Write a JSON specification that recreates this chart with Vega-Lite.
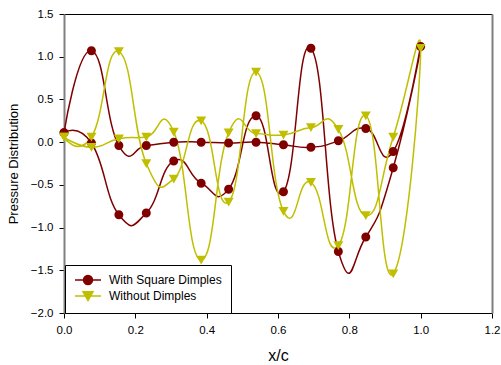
{
  "$schema": "https://vega.github.io/schema/vega-lite/v6.json",
  "width": 428,
  "height": 299,
  "autosize": {"type": "none"},
  "padding": {"left": 64, "top": 14, "right": 9, "bottom": 52},
  "background": "white",
  "config": {
    "view": {"stroke": null},
    "font": "Liberation Sans",
    "axis": {"grid": false, "labelFont": "Liberation Sans", "titleFont": "Liberation Sans", "labelColor": "black", "titleColor": "black", "titleFontWeight": "normal", "tickColor": "black", "labelFontSize": 11.5, "tickSize": 5, "labelFlush": false}
  },
  "data": {"values": [
    {"series": "With Square Dimples", "i": 0, "x": 0.0, "y": 0.11},
    {"series": "With Square Dimples", "i": 1, "x": 0.07692, "y": 1.07},
    {"series": "With Square Dimples", "i": 2, "x": 0.15385, "y": -0.04},
    {"series": "With Square Dimples", "i": 3, "x": 0.23077, "y": -0.04},
    {"series": "With Square Dimples", "i": 4, "x": 0.30769, "y": 0.0},
    {"series": "With Square Dimples", "i": 5, "x": 0.38462, "y": 0.0},
    {"series": "With Square Dimples", "i": 6, "x": 0.46154, "y": -0.01},
    {"series": "With Square Dimples", "i": 7, "x": 0.53846, "y": 0.0},
    {"series": "With Square Dimples", "i": 8, "x": 0.61538, "y": -0.03},
    {"series": "With Square Dimples", "i": 9, "x": 0.69231, "y": -0.06},
    {"series": "With Square Dimples", "i": 10, "x": 0.76923, "y": 0.015},
    {"series": "With Square Dimples", "i": 11, "x": 0.84615, "y": 0.16},
    {"series": "With Square Dimples", "i": 12, "x": 0.92308, "y": -0.11},
    {"series": "With Square Dimples", "i": 13, "x": 1.0, "y": 1.12},
    {"series": "With Square Dimples", "i": 14, "x": 0.92308, "y": -0.30},
    {"series": "With Square Dimples", "i": 15, "x": 0.84615, "y": -1.11},
    {"series": "With Square Dimples", "i": 16, "x": 0.76923, "y": -1.28},
    {"series": "With Square Dimples", "i": 17, "x": 0.69231, "y": 1.10},
    {"series": "With Square Dimples", "i": 18, "x": 0.61538, "y": -0.58},
    {"series": "With Square Dimples", "i": 19, "x": 0.53846, "y": 0.31},
    {"series": "With Square Dimples", "i": 20, "x": 0.46154, "y": -0.55},
    {"series": "With Square Dimples", "i": 21, "x": 0.38462, "y": -0.48},
    {"series": "With Square Dimples", "i": 22, "x": 0.30769, "y": -0.22},
    {"series": "With Square Dimples", "i": 23, "x": 0.23077, "y": -0.83},
    {"series": "With Square Dimples", "i": 24, "x": 0.15385, "y": -0.85},
    {"series": "With Square Dimples", "i": 25, "x": 0.07692, "y": -0.01},
    {"series": "With Square Dimples", "i": 26, "x": 0.0, "y": 0.11},
    {"series": "Without Dimples", "i": 0, "x": 0.0, "y": 0.06},
    {"series": "Without Dimples", "i": 1, "x": 0.07692, "y": 0.06},
    {"series": "Without Dimples", "i": 2, "x": 0.15385, "y": 1.06},
    {"series": "Without Dimples", "i": 3, "x": 0.23077, "y": -0.25},
    {"series": "Without Dimples", "i": 4, "x": 0.30769, "y": -0.43},
    {"series": "Without Dimples", "i": 5, "x": 0.38462, "y": 0.25},
    {"series": "Without Dimples", "i": 6, "x": 0.46154, "y": -0.70},
    {"series": "Without Dimples", "i": 7, "x": 0.53846, "y": 0.82},
    {"series": "Without Dimples", "i": 8, "x": 0.61538, "y": -0.81},
    {"series": "Without Dimples", "i": 9, "x": 0.69231, "y": -0.47},
    {"series": "Without Dimples", "i": 10, "x": 0.76923, "y": -1.21},
    {"series": "Without Dimples", "i": 11, "x": 0.84615, "y": 0.31},
    {"series": "Without Dimples", "i": 12, "x": 0.92308, "y": -1.54},
    {"series": "Without Dimples", "i": 13, "x": 1.0, "y": 1.10},
    {"series": "Without Dimples", "i": 14, "x": 0.92308, "y": 0.06},
    {"series": "Without Dimples", "i": 15, "x": 0.84615, "y": -0.86},
    {"series": "Without Dimples", "i": 16, "x": 0.76923, "y": 0.15},
    {"series": "Without Dimples", "i": 17, "x": 0.69231, "y": 0.17},
    {"series": "Without Dimples", "i": 18, "x": 0.61538, "y": 0.085},
    {"series": "Without Dimples", "i": 19, "x": 0.53846, "y": 0.10},
    {"series": "Without Dimples", "i": 20, "x": 0.46154, "y": 0.11},
    {"series": "Without Dimples", "i": 21, "x": 0.38462, "y": -1.38},
    {"series": "Without Dimples", "i": 22, "x": 0.30769, "y": 0.12},
    {"series": "Without Dimples", "i": 23, "x": 0.23077, "y": 0.06},
    {"series": "Without Dimples", "i": 24, "x": 0.15385, "y": 0.04},
    {"series": "Without Dimples", "i": 25, "x": 0.07692, "y": -0.06},
    {"series": "Without Dimples", "i": 26, "x": 0.0, "y": 0.06}
  ]},
  "layer": [
    {
      "layer": [
        {
          "mark": {"type": "line", "interpolate": "cardinal", "tension": -0.5, "strokeWidth": 1.5},
          "encoding": {
            "x": {"field": "x", "type": "quantitative", "scale": {"domain": [0, 1.2], "nice": false, "zero": false},
              "axis": {"values": [0, 0.2, 0.4, 0.6, 0.8, 1.0, 1.2], "format": ".1f", "title": "x/c", "titleFontSize": 16, "titlePadding": 12, "labelPadding": 6, "domainColor": "black", "domainWidth": 1}},
            "y": {"field": "y", "type": "quantitative", "scale": {"domain": [-2, 1.5], "nice": false, "zero": false},
              "axis": {"values": [-2, -1.5, -1, -0.5, 0, 0.5, 1, 1.5], "format": ".1f", "title": "Pressure Distribution", "titleFontSize": 13, "titlePadding": 10, "labelPadding": 6, "domainColor": "#808080", "domainWidth": 2}},
            "order": {"field": "i", "type": "quantitative"},
            "color": {"field": "series", "type": "nominal", "scale": {"domain": ["With Square Dimples", "Without Dimples"], "range": ["#800000", "#BFBF00"]}}
          }
        },
        {
          "mark": {"type": "point", "filled": true, "opacity": 1, "size": 100},
          "encoding": {
            "x": {"field": "x", "type": "quantitative"},
            "y": {"field": "y", "type": "quantitative"},
            "color": {"field": "series", "type": "nominal",
              "legend": {
                "orient": "none", "legendX": 1, "legendY": 251, "title": null,
                "padding": 9, "strokeColor": "black", "fillColor": "white",
                "symbolSize": 100, "symbolOffset": 8, "labelOffset": 15, "rowPadding": 0,
                "labelFont": "Liberation Sans", "labelFontSize": 12, "labelColor": "black",
                "encode": {"symbols": {"update": {
                  "fill": {"signal": "datum.value === 'With Square Dimples' ? '#800000' : '#BFBF00'"},
                  "stroke": {"signal": "datum.value === 'With Square Dimples' ? '#800000' : '#BFBF00'"},
                  "strokeWidth": {"value": 1.5},
                  "opacity": {"value": 1}
                }}}
              }},
            "shape": {"field": "series", "type": "nominal",
              "scale": {"domain": ["With Square Dimples", "Without Dimples"], "range": ["M-2.6,0L2.6,0M0.9,0A0.9,0.9,0,1,1,-0.9,0A0.9,0.9,0,1,1,0.9,0Z", "M-2.6,0L2.6,0M-1,-0.85L1,-0.85L0,0.9Z"]},
              "legend": {
                "orient": "none", "legendX": 1, "legendY": 251, "title": null,
                "padding": 9, "strokeColor": "black", "fillColor": "white",
                "symbolSize": 100, "symbolOffset": 8, "labelOffset": 15, "rowPadding": 0,
                "labelFont": "Liberation Sans", "labelFontSize": 12, "labelColor": "black",
                "encode": {"symbols": {"update": {
                  "fill": {"signal": "datum.value === 'With Square Dimples' ? '#800000' : '#BFBF00'"},
                  "stroke": {"signal": "datum.value === 'With Square Dimples' ? '#800000' : '#BFBF00'"},
                  "strokeWidth": {"value": 1.5},
                  "opacity": {"value": 1}
                }}}
              }}
          }
        }
      ]
    },
    {
      "mark": {"type": "point", "opacity": 0},
      "encoding": {
        "x": {"field": "x", "type": "quantitative", "axis": {"orient": "top", "labels": false, "ticks": false, "title": null, "domainColor": "black", "domainWidth": 1}},
        "y": {"field": "y", "type": "quantitative", "axis": {"orient": "right", "labels": false, "ticks": false, "title": null, "domainColor": "#808080", "domainWidth": 2}}
      }
    }
  ],
  "resolve": {"axis": {"x": "independent", "y": "independent"}}
}
